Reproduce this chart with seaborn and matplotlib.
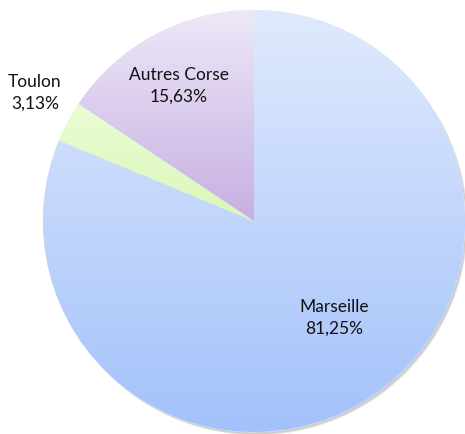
import matplotlib.pyplot as plt
import matplotlib.colors as mcolors
import seaborn as sns
import numpy as np

# data
labels = ["Marseille", "Toulon", "Autres Corse"]
shares = [81.25, 3.13, 15.63]
# gradient colours (top, bottom) for each slice
top_colors = ["#e0eafd", "#eafcd4", "#eee8f7"]
bottom_colors = ["#a3c1fa", "#daf7b8", "#c6afe2"]

sns.set_theme(style="white")
plt.rcParams["font.family"] = ["Lato", "DejaVu Sans"]

fig = plt.figure(figsize=(4.65, 4.34), dpi=100)
ax = fig.add_axes([0, 0, 1, 1])

cx, cy, r = 254, 213, 211

# soft shadow under the pie
for k, a in enumerate([0.10, 0.10, 0.12]):
    ax.add_patch(plt.Circle((cx + 1.5 + k * 0.6, cy - 2 - k * 0.6), r, color="#555555",
                            alpha=a, lw=0, zorder=0))

wedges, _ = ax.pie(shares, startangle=90, counterclock=False, center=(cx, cy),
                   radius=r, frame=True,
                   wedgeprops=dict(edgecolor="white", linewidth=0.4))

for w, c0, c1 in zip(wedges, top_colors, bottom_colors):
    w.set_facecolor(c1)
    w.set_zorder(1)
    ext = w.get_path().get_extents()
    cmap = mcolors.LinearSegmentedColormap.from_list("g", [c1, c0])
    grad = np.linspace(0, 1, 256).reshape(-1, 1)
    im = ax.imshow(grad, cmap=cmap, origin="lower", aspect="auto",
                   extent=(ext.x0, ext.x1, ext.y0, ext.y1), zorder=2)
    im.set_clip_path(w)

ax.set_xlim(0, 465)
ax.set_ylim(0, 434)
ax.set_aspect("equal")
ax.axis("off")

# label positions (pixel layout)
label_pos = [(334, 434 - 318), (35, 434 - 93), (179, 434 - 86)]
for lab, val, (x, y) in zip(labels, shares, label_pos):
    txt = f"{lab}\n{val:.2f}%".replace(".", ",")
    ax.text(x, y, txt, ha="center", va="center", fontsize=12.5,
            color="#111111", linespacing=1.45, zorder=5)

fig.savefig("out.png", dpi=100)
